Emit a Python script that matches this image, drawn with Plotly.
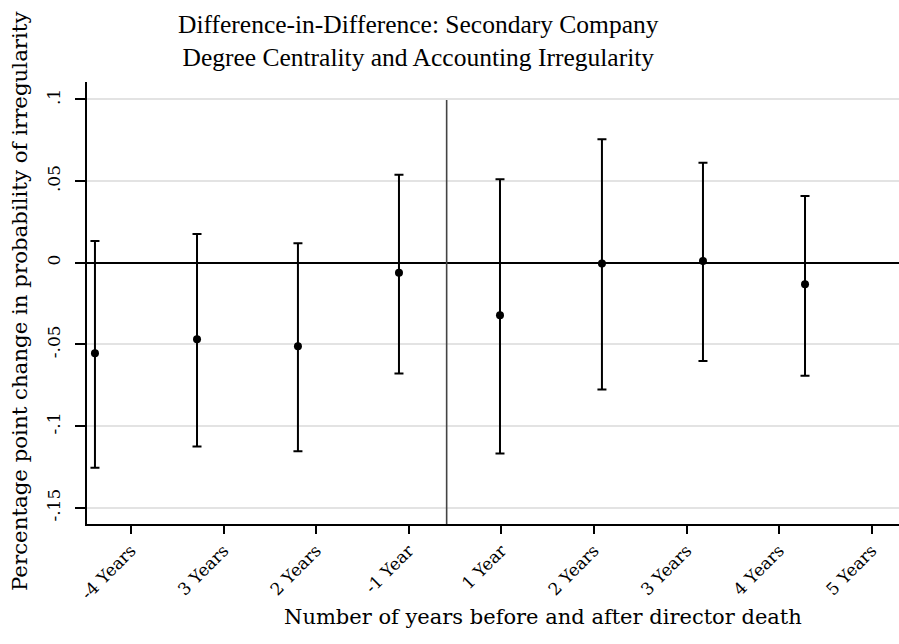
import plotly.graph_objects as go

# Data
x_positions = [0.611, 1.713, 2.803, 3.894, 4.985, 6.086, 7.177, 8.279]
coefficients = [-0.0555, -0.0468, -0.0512, -0.0061, -0.0322, -0.0004, 0.0010, -0.0132]
ci_upper = [0.0133, 0.0176, 0.0119, 0.0539, 0.0511, 0.0756, 0.0613, 0.0409]
ci_lower = [-0.1256, -0.1125, -0.1154, -0.0678, -0.1168, -0.0776, -0.0602, -0.0692]

x_tick_vals = [1, 2, 3, 4, 5, 6, 7, 8, 9]
x_tick_labels = ["-4 Years", "3 Years", "2 Years", "-1 Year", "1 Year",
                 "2 Years", "3 Years", "4 Years", "5 Years"]
y_tick_vals = [-0.15, -0.1, -0.05, 0, 0.05, 0.1]
y_tick_labels = ["-.15", "-.1", "-.05", "0", ".05", ".1"]
event_line_x = 4.409
event_line_top = 0.0997

err_plus = [u - c for u, c in zip(ci_upper, coefficients)]
err_minus = [c - l for c, l in zip(coefficients, ci_lower)]

W, H = 899, 644
ML, MR, MT, MB = 87, 0, 82, 120
PW, PH = W - ML - MR, H - MT - MB

def px_x(px):
    return (px - ML) / PW

def px_y(py):
    return (H - MB - py) / PH

fig = go.Figure()
fig.add_trace(go.Scatter(
    x=x_positions, y=coefficients, mode="markers",
    marker=dict(color="black", size=8, symbol="circle"),
    error_y=dict(type="data", symmetric=False, array=err_plus, arrayminus=err_minus,
                 color="black", thickness=2, width=4.5),
    showlegend=False,
))

fig.add_shape(type="line", x0=event_line_x, x1=event_line_x, y0=-0.16, y1=event_line_top,
              xref="x", yref="y", line=dict(color="#444444", width=1.6), layer="above")

fig.update_layout(
    width=W, height=H,
    margin=dict(l=ML, r=MR, t=MT, b=MB, autoexpand=False),
    paper_bgcolor="white", plot_bgcolor="white",
    font=dict(family="DejaVu Serif", color="black"),
    xaxis=dict(
        range=[0.525, 9.294], tickmode="array", tickvals=x_tick_vals, ticktext=x_tick_labels,
        tickangle=-45, ticks="outside", ticklen=8, tickwidth=2, tickcolor="black",
        showline=True, linecolor="black", linewidth=2, showgrid=False, zeroline=False,
        tickfont=dict(family="DejaVu Serif", size=17, color="black"),
        automargin=False,
    ),
    yaxis=dict(
        range=[-0.160, 0.1107], tickmode="array", tickvals=y_tick_vals, ticktext=y_tick_labels,
        tickangle=-90, ticks="outside", ticklen=10, tickwidth=2, tickcolor="black",
        showline=True, linecolor="black", linewidth=2,
        showgrid=True, gridcolor="#e3e3e3", gridwidth=1.5,
        zeroline=True, zerolinecolor="black", zerolinewidth=2,
        tickfont=dict(family="DejaVu Serif", size=17, color="black"),
        ticklabelstandoff=8, automargin=False,
    ),
    annotations=[
        dict(text="Difference-in-Difference: Secondary Company<br>Degree Centrality and Accounting Irregularity",
             x=px_x(418), y=px_y(41), xref="paper", yref="paper", showarrow=False,
             xanchor="center", yanchor="middle",
             font=dict(family="Liberation Serif", size=25.5, color="black")),
        dict(text="Number of years before and after director death",
             x=px_x(543), y=px_y(617), xref="paper", yref="paper", showarrow=False,
             xanchor="center", yanchor="middle",
             font=dict(family="DejaVu Serif", size=21, color="black")),
        dict(text="Percentage point change in probability of irregularity",
             x=px_x(19), y=px_y(302), xref="paper", yref="paper", showarrow=False,
             xanchor="center", yanchor="middle", textangle=-90,
             font=dict(family="DejaVu Serif", size=21.3, color="black")),
    ],
)

fig.write_html("out.html", config={"displayModeBar": False},
               post_script="document.body.style.margin='0px';")
